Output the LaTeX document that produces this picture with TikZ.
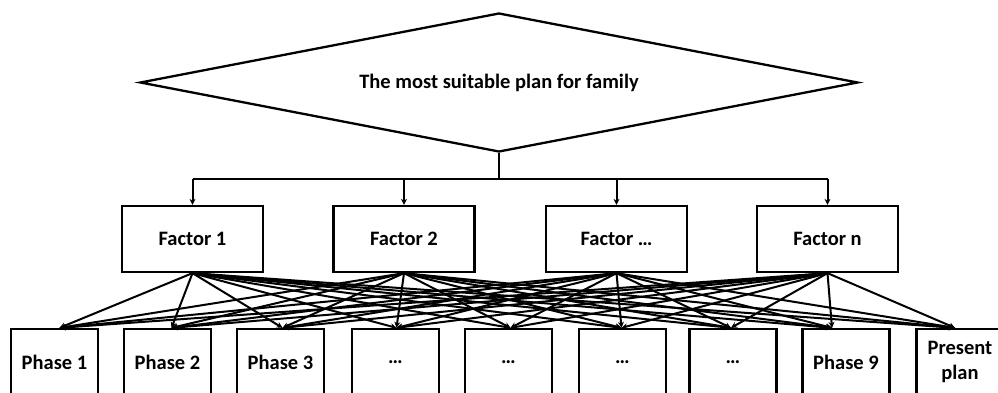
\documentclass[tikz,border=0pt]{standalone}
\usepackage{fontspec}
\setmainfont{Carlito}
\usetikzlibrary{shapes.geometric,arrows.meta}
\begin{document}
\begin{tikzpicture}[x=1pt,y=-1pt,
  box/.style={draw,line width=2.3pt,minimum width=141pt,minimum height=66pt,inner sep=0pt,font=\bfseries\fontsize{20.5pt}{23pt}\selectfont},
  phbox/.style={draw,line width=2.3pt,minimum width=87pt,minimum height=66pt,inner sep=0pt,align=center,font=\bfseries\fontsize{20.5pt}{25pt}\selectfont},
  arr/.style={line width=2pt,-{Stealth[length=6pt,width=6pt]}},
  ln/.style={line width=2.2pt}]
\useasboundingbox (0,0) rectangle (998,393);
\node[draw,diamond,shape aspect=5.17,line width=2.3pt,minimum width=718pt,minimum height=139pt,inner sep=0pt,font=\bfseries\fontsize{20.5pt}{23pt}\selectfont] (d) at (499,82.5) {The most suitable plan for family};
\node[box] (f1) at (192.5,239) {Factor 1};
\node[box] (f2) at (404,239) {Factor 2};
\node[box] (f3) at (616.5,239) {Factor \dots};
\node[box] (f4) at (827.5,239) {Factor n};
\node[phbox] (p1) at (54.5,362) {Phase 1};
\node[phbox] (p2) at (167.5,362) {Phase 2};
\node[phbox] (p3) at (280.5,362) {Phase 3};
\node[phbox] (p4) at (395.5,362) {\dots};
\node[phbox] (p5) at (508.5,362) {\dots};
\node[phbox] (p6) at (622.5,362) {\dots};
\node[phbox] (p7) at (733,362) {\dots};
\node[phbox] (p8) at (846,362) {Phase 9};
\node[phbox] (p9) at (960,362) {Present\\plan};
\coordinate (bus) at (0,179);
\draw[ln] (d.south) -- (d.south |- bus);
\draw[ln] (f1.north |- bus) -- (f4.north |- bus);
\foreach \f in {f1,f2,f3,f4}{
  \draw[arr] (\f.north |- bus) -- (\f.north);
  \foreach \p/\s in {p1/5,p2/4,p3/2,p4/1,p5/2,p6/-1,p7/-2,p8/-14,p9/-5}{
    \draw[arr] (\f.south) -- ([xshift=\s pt]\p.north);
  }
}
\end{tikzpicture}
\end{document}
